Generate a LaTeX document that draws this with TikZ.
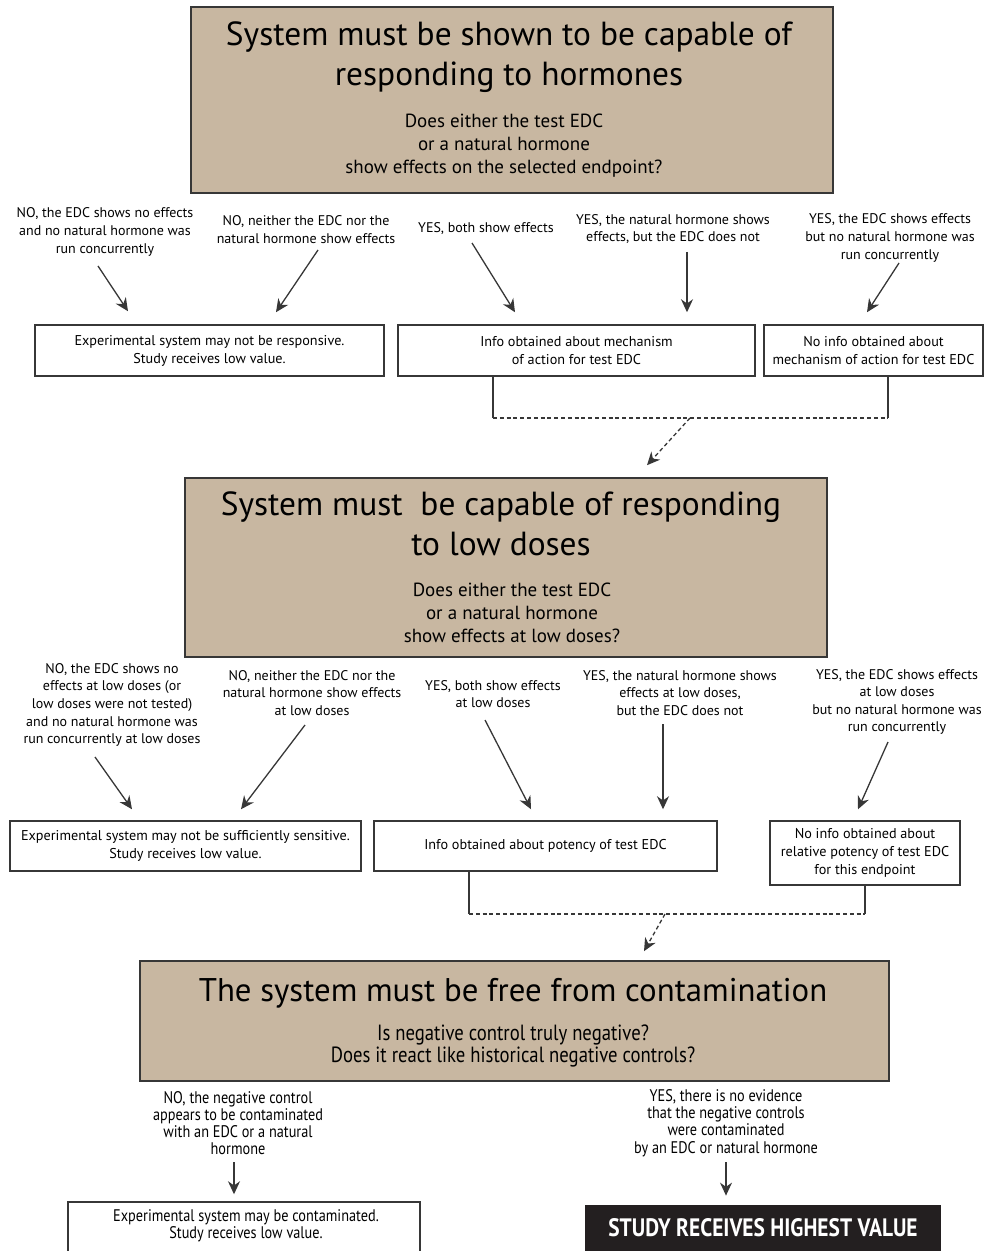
\documentclass[tikz,border=0pt]{standalone}
\usepackage{fontspec}
\setmainfont{PT Sans}
\newfontfamily\narrowfont[FakeStretch=0.85]{PT Sans}
\usetikzlibrary{arrows.meta, calc}

\definecolor{tan}{RGB}{200,183,161}
\definecolor{darkbox}{RGB}{35,31,32}
\definecolor{edge}{RGB}{55,55,55}

\tikzset{
    question/.style={draw=edge, fill=tan, line width=0.8pt, inner sep=0},
    qtitle/.style={align=center, inner sep=0, font=\fontsize{16.7}{20}\selectfont},
    qsub/.style={align=center, inner sep=0, font=\fontsize{9.5}{11.5}\selectfont},
    answer/.style={align=center, inner sep=0, font=\fontsize{7}{8.8}\selectfont},
    outcome/.style={draw=edge, line width=0.75pt, align=center, inner sep=0, font=\fontsize{7.1}{9}\selectfont},
    arr/.style={draw=edge, line width=0.65pt, -{Stealth[length=6.5pt, width=6pt]}},
    link/.style={draw=edge, line width=0.65pt},
    dots/.style={dash pattern=on 2pt off 1.4pt},
}

\begin{document}
\begin{tikzpicture}[x=0.5pt, y=-0.5pt]
    \useasboundingbox (0,0) rectangle (984,1251);
    \clip (0,0) rectangle (984,1251);

    % first question
    \node[question, minimum width=321pt, minimum height=93pt] (q1) at (512,100) {};
    \node[qtitle] (q1t) at (509,57) {System must be shown to be capable of\\responding to hormones};
    \node[qsub] (q1s) at (504,146) {Does either the test EDC\\or a natural hormone\\show effects on the selected endpoint?};

    \node[answer] (a1) at (105,232) {NO, the EDC shows no effects\\and no natural hormone was\\run concurrently};
    \node[answer] (a2) at (306,229.5) {NO, neither the EDC nor the\\natural hormone show effects};
    \node[answer] (a3) at (486,229) {YES, both show effects};
    \node[answer] (a4) at (673,229) {YES, the natural hormone shows\\effects, but the EDC does not};
    \node[answer] (a5) at (890,238) {YES, the EDC shows effects\\but no natural hormone was\\run concurrently};

    \node[outcome, minimum width=174.5pt, minimum height=25.5pt] (b1) at (209.5,350.5) {Experimental system may not be responsive.\\Study receives low value.};
    \node[outcome, minimum width=178.5pt, minimum height=25.5pt] (b2) at (576.5,350.5) {Info obtained about mechanism\\of action for test EDC};
    \node[outcome, minimum width=109.5pt, minimum height=25.5pt] (b3) at (873.5,350.5) {No info obtained about\\mechanism of action for test EDC};

    \draw[arr] ($(a1)+(-7,34)$) -- ($(b1.north)+(-81.5,-13)$);
    \draw[arr] ($(a2)+(12,20.5)$) -- ($(b1.north)+(66.5,-12)$);
    \draw[arr] ($(a3)+(-14,14)$) -- ($(b2.north)+(-61.5,-12)$);
    \draw[arr] ($(a4)+(14,23)$) -- ($(b2.north)+(110.5,-12)$);
    \draw[arr] ($(a5)+(9,25)$) -- ($(b3.north)+(-6.5,-12)$);

    \coordinate (m1) at (690,418);
    \draw[link] ([xshift=-41.75pt]b2.south) coordinate (s1) -- (s1 |- m1) coordinate (s1m);
    \draw[link] ([xshift=7.25pt]b3.south) coordinate (s2) -- (s2 |- m1) coordinate (s2m);
    \draw[link, dots] (s1m) -- (s2m);

    % second question
    \node[question, minimum width=321pt, minimum height=89.5pt] (q2) at (506,567.5) {};
    \node[qtitle] (q2t) at (501,524) {System must~ be capable of responding\\to low doses};
    \node[qsub] (q2s) at (512,613) {Does either the test EDC\\or a natural hormone\\show effects at low doses?};

    \draw[arr, dots] (m1) -- ($(q2.north)+(141,-12)$);

    \node[answer] (c1) at (112,705) {NO, the EDC shows no\\effects at low doses (or\\low doses were not tested)\\and no natural hormone was\\run concurrently at low doses};
    \node[answer] (c2) at (312,693) {NO, neither the EDC nor the\\natural hormone show effects\\at low doses};
    \node[answer] (c3) at (493,694) {YES, both show effects\\at low doses};
    \node[answer] (c4) at (680,693) {YES, the natural hormone shows\\effects at low doses,\\but the EDC does not};
    \node[answer] (c5) at (897,702) {YES, the EDC shows effects\\at low doses\\but no natural hormone was\\run concurrently};

    \node[outcome, minimum width=175.5pt, minimum height=25pt] (b4) at (185.5,846) {Experimental system may not be sufficiently sensitive.\\Study receives low value.};
    \node[outcome, minimum width=171.5pt, minimum height=25pt] (b5) at (545.5,846) {Info obtained about potency of test EDC};
    \node[outcome, minimum width=95pt, minimum height=32pt] (b6) at (865,853) {No info obtained about\\relative potency of test EDC\\for this endpoint};

    \draw[arr] ($(c1)+(-17,52)$) -- ($(b4.north)+(-53.5,-11)$);
    \draw[arr] ($(c2)+(-7,32)$) -- ($(b4.north)+(55.5,-11)$);
    \draw[arr] ($(c3)+(-8,26)$) -- ($(b5.north)+(-14.5,-11)$);
    \draw[arr] ($(c4)+(-17,31)$) -- ($(b5.north)+(117.5,-11)$);
    \draw[arr] ($(c5)+(-9,40)$) -- ($(b6.north)+(-7,-11)$);

    \coordinate (m2) at (665,914);
    \draw[link] ([xshift=-38.25pt]b5.south) coordinate (s3) -- (s3 |- m2) coordinate (s3m);
    \draw[link] (b6.south) coordinate (s4) -- (s4 |- m2) coordinate (s4m);
    \draw[link, dots] (s3m) -- (s4m);

    % third question
    \node[question, minimum width=374.5pt, minimum height=60pt] (q3) at (514.5,1021) {};
    \node[qtitle, font=\fontsize{16.4}{20}\selectfont] (q3t) at (513,993) {The system must be free from contamination};
    \node[qsub, font=\narrowfont\fontsize{11}{11}\selectfont] (q3s) at (513,1046) {Is negative control truly negative?\\Does it react like historical negative controls?};

    \draw[arr, dots] (m2) -- ($(q3.north)+(129.5,-9)$);

    \node[answer, font=\narrowfont\fontsize{8.4}{8.6}\selectfont] (d1) at (238,1123) {NO, the negative control\\appears to be contaminated\\with an EDC or a natural\\hormone};
    \node[answer, font=\narrowfont\fontsize{8.4}{8.6}\selectfont] (d2) at (726,1123) {YES, there is no evidence\\that the negative controls\\were contaminated\\by an EDC or natural hormone};

    \node[outcome, minimum width=176pt, minimum height=30pt] (b7) at (244,1232) {};
    \node[answer, font=\narrowfont\fontsize{8.4}{8.3}\selectfont] (b7t) at (246,1226) {Experimental system may be contaminated.\\Study receives low value.};
    \node[fill=darkbox, text=white, minimum width=178pt, minimum height=23pt, inner sep=0,
          font=\narrowfont\bfseries\fontsize{12.6}{15}\selectfont] (b8) at (763,1228) {STUDY RECEIVES HIGHEST VALUE};

    \draw[arr] ($(d1)+(-4,39)$) -- ($(b7.north)+(-10,-7)$);
    \draw[arr] ($(d2)+(0,39)$) -- ($(b8.north)+(-37,-9)$);
\end{tikzpicture}
\end{document}
